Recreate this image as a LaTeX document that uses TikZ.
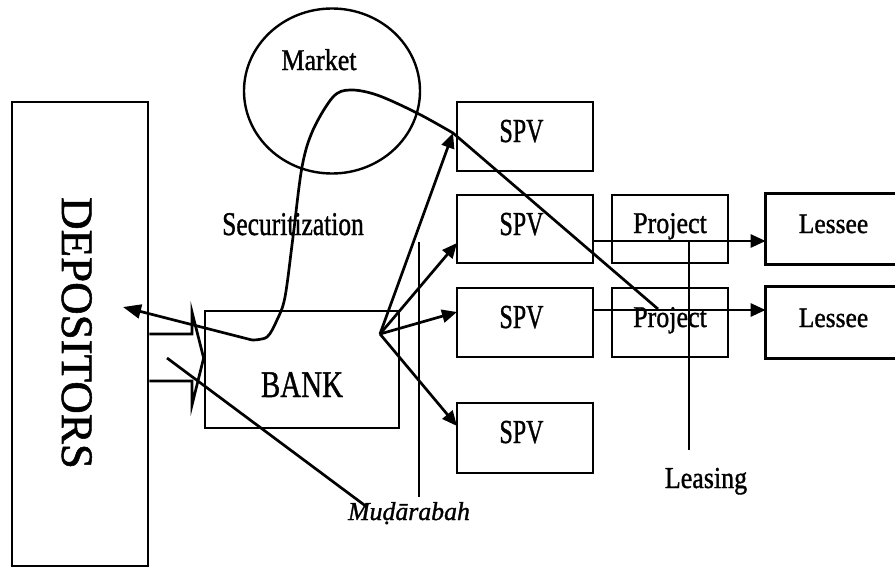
\documentclass[tikz,border=0pt]{standalone}
\usepackage{fontspec}
\setmainfont{Liberation Serif}[BoldFont=Liberation Serif,BoldFeatures={FakeBold=1.2},
  BoldItalicFont=Liberation Serif Italic,BoldItalicFeatures={FakeBold=1.2}]
\usepackage{graphicx}
\usetikzlibrary{arrows.meta,shapes.geometric}
\newcommand\vsc[2][1.2]{\scalebox{1}[#1]{#2}}
\begin{document}
\begin{tikzpicture}[x=1pt,y=-1pt,line width=2.7pt,
  box/.style={draw,rectangle,inner sep=0pt},
  lbl/.style={anchor=base,inner sep=0pt,font=\fontsize{25.5}{30}\selectfont\bfseries},
  tip/.style={-{Triangle[length=15pt,width=13pt]}},
  bigtip/.style={-{Triangle[length=18pt,width=14pt]}}]
\useasboundingbox (0,0) rectangle (895,568);
% boxes
\node[box,minimum width=136pt,minimum height=464pt] (dep) at (80,334) {};
\node[box,minimum width=194pt,minimum height=117pt] (bank) at (302,369.5) {};
\node[box,minimum width=136pt,minimum height=69pt] (spv1) at (525,136.5) {};
\node[box,minimum width=136pt,minimum height=68pt] (spv2) at (525,229) {};
\node[box,minimum width=136pt,minimum height=69pt] (spv3) at (525,322.5) {};
\node[box,minimum width=136pt,minimum height=70pt] (spv4) at (525,438) {};
\node[box,minimum width=116pt,minimum height=68pt] (prj2) at (670,229) {};
\node[box,minimum width=116pt,minimum height=69pt] (prj3) at (670,322.5) {};
\node[inner sep=0pt,minimum width=133pt,minimum height=68pt] (les2) at (833.5,229) {};
\node[inner sep=0pt,minimum width=133pt,minimum height=69pt] (les3) at (833.5,322.5) {};
\draw (les2.north east) -- (les2.north west) -- (les2.south west) -- (les2.south east);
\draw (les3.north east) -- (les3.north west) -- (les3.south west) -- (les3.south east);
\node[draw,ellipse,inner sep=0pt,line width=2.4pt,minimum width=176pt,minimum height=165pt] (mkt) at (332,91) {};
% labels
\node[lbl,rotate=-90,font=\fontsize{45}{50}\selectfont\bfseries] (deptxt) at (62,333) {DEPOSITORS};
\node[lbl,font=\fontsize{29}{34}\selectfont\bfseries] (banktxt) at (302,397) {\vsc[1.3]{BANK}};
\node[lbl,font=\fontsize{26}{30}\selectfont\bfseries] (mkttxt) at (319,70) {\vsc[1.16]{Market}};
\node[lbl] (sectxt) at (293,235) {\vsc[1.3]{Securitization}};
\node[lbl,font=\fontsize{24}{28}\selectfont\bfseries] (s1) at (521.5,142) {\vsc[1.4]{SPV}};
\node[lbl,font=\fontsize{24}{28}\selectfont\bfseries] (s2) at (521.5,235) {\vsc[1.4]{SPV}};
\node[lbl,font=\fontsize{24}{28}\selectfont\bfseries] (s3) at (521.5,328) {\vsc[1.4]{SPV}};
\node[lbl,font=\fontsize{24}{28}\selectfont\bfseries] (s4) at (521.5,443) {\vsc[1.4]{SPV}};
\node[lbl,font=\fontsize{26}{30}\selectfont\bfseries] (p2) at (670,233) {\vsc[1.16]{Project}};
\node[lbl,font=\fontsize{26}{30}\selectfont\bfseries] (p3) at (670,327) {\vsc[1.16]{Project}};
\node[lbl] (l2) at (833.5,233) {\vsc[1.1]{Lessee}};
\node[lbl] (l3) at (833.5,327) {\vsc[1.1]{Lessee}};
\node[lbl,font=\fontsize{26}{30}\selectfont\bfseries] (leas) at (706,488) {\vsc[1.17]{Leasing}};
\node[lbl,font=\fontsize{25.8}{30}\selectfont\bfseries\itshape] (mud) at (409,520) {Muḍārabah};
% coordinates
\coordinate (bo) at (380,334);
\coordinate (t1) at (453,133);
\coordinate (t2) at (457,243);
\coordinate (t3) at (457,312);
\coordinate (t4) at (457,426);
\coordinate (sb) at (252,340);
\coordinate (dt) at (123,307);
\coordinate (ce) at (658,309);
% block arrow depositors -> bank
\draw[line join=miter] (dep.east |- 0,334) -- (192,334) -- (192,312) -- (bank.west |- 0,358)
  -- (192,405) -- (192,381) -- (dep.east |- 0,381);
% arrows bank -> SPVs
\draw[tip] (bo) -- (t1);
\draw[tip] (bo) -- (t2);
\draw[tip] (bo) -- (t3);
\draw[tip] (bo) -- (t4);
% arrow to depositors
\draw[bigtip] (sb) -- (dt);
% securitization curve
\draw plot[smooth,tension=0.55] coordinates {(252,340) (267,337) (277,320) (285,297) (293,237) (302,167) (313,130) (333,97) (350,90) (377,95) (417,113) (453,133)} -- (ce);
% project -> lessee arrows
\draw[tip] (spv2.east |- 0,241) -- (les2.west |- 0,241);
\draw[tip] (spv3.east |- 0,310) -- (les3.west |- 0,310);
% leasing line
\draw (689,241) -- (689,450);
% mudarabah lines
\draw (419,242) -- (419,497);
\draw (167,358) -- (367,507);
\end{tikzpicture}
\end{document}
